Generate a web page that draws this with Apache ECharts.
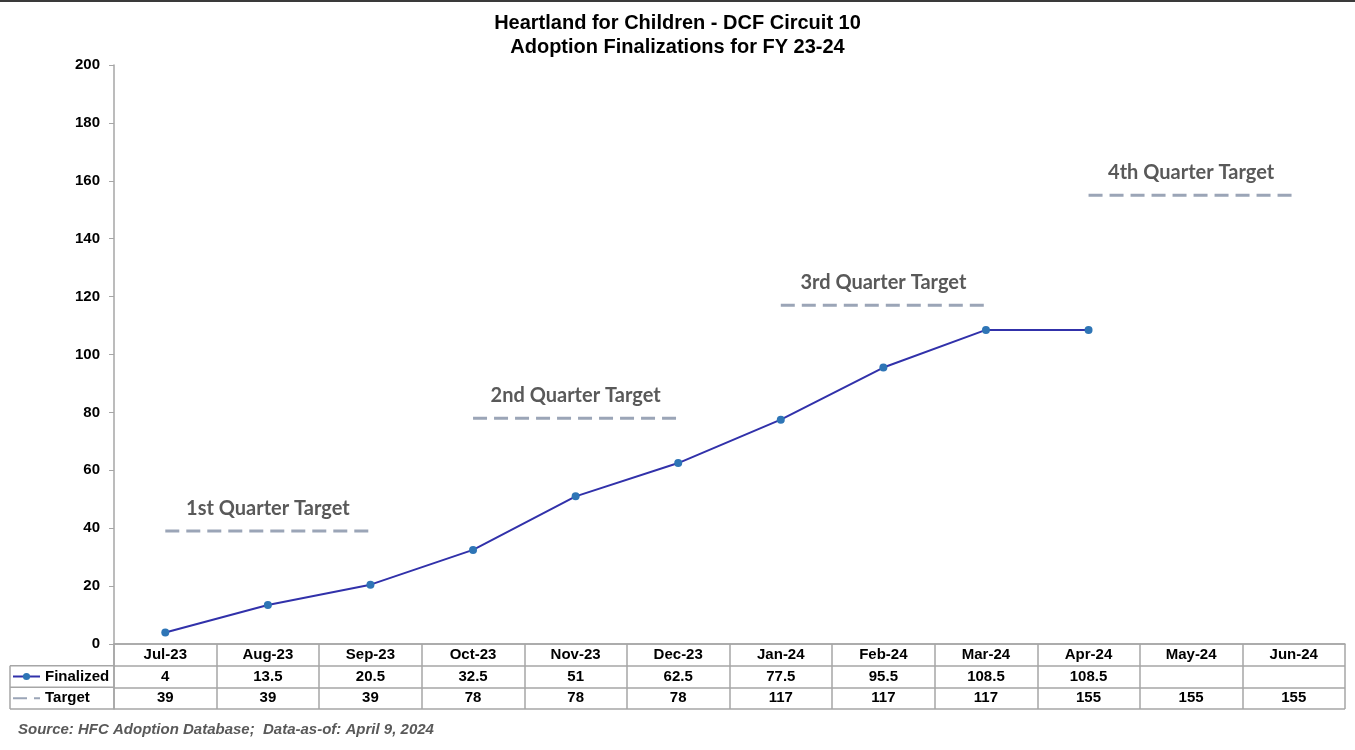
<!DOCTYPE html>
<html>
<head>
<meta charset="utf-8">
<script src="https://cdn.jsdelivr.net/npm/echarts@6/dist/echarts.min.js"></script>
<style>
  html, body { margin: 0; padding: 0; background: #fff; }
  #chart { width: 1355px; height: 750px; }
</style>
</head>
<body>
<div id="chart"></div>
<script>
// data
const months = ['Jul-23', 'Aug-23', 'Sep-23', 'Oct-23', 'Nov-23', 'Dec-23',
                'Jan-24', 'Feb-24', 'Mar-24', 'Apr-24', 'May-24', 'Jun-24'];
const finalized = [4, 13.5, 20.5, 32.5, 51, 62.5, 77.5, 95.5, 108.5, 108.5, null, null];
const targets = [39, 39, 39, 78, 78, 78, 117, 117, 117, 155, 155, 155];
const quarterLabels = ['1st Quarter Target', '2nd Quarter Target', '3rd Quarter Target', '4th Quarter Target'];

// layout
const plotLeft = 114, plotRight = 10, plotTop = 65;
const tableTop = 644, tableBottom = 709, tableLeft = 10;
const rowH = (tableBottom - tableTop) / 3;
const gridLine = '#a6a6a6';
const font = 'Liberation Sans, Arial, sans-serif';

const chart = echarts.init(document.getElementById('chart'));

// one series per quarter so the dashed target lines break between quarters
const targetSeries = quarterLabels.map((label, q) => ({
    name: 'Target',
    type: 'line',
    xAxisIndex: 0,
    yAxisIndex: 0,
    data: targets.map((v, i) => Math.floor(i / 3) === q ? v : null),
    symbol: 'none',
    silent: true,
    lineStyle: { color: '#9ba5b7', width: 3, type: [14, 7] },
    markPoint: {
        symbol: 'circle',
        symbolSize: 0,
        silent: true,
        data: [{ name: label, coord: [months[q * 3 + 1], targets[q * 3 + 1]] }],
        label: {
            show: true, position: 'top', distance: 13, formatter: '{b}',
            fontFamily: 'Lato, Carlito, sans-serif', fontWeight: 'bold', fontSize: 20, color: '#595959'
        }
    }
}));

const option = {
    animation: false,
    title: [{
        text: 'Heartland for Children - DCF Circuit 10\nAdoption Finalizations for FY 23-24',
        left: 'center', top: 6,
        textStyle: { fontFamily: font, fontWeight: 'bold', fontSize: 20, lineHeight: 24, color: '#000' }
    }, {
        text: '{b|Source:} HFC Adoption Database;  {b|Data-as-of:} April 9, 2024',
        left: 13, top: 716,
        textStyle: {
            fontFamily: font, fontStyle: 'italic', fontSize: 15, lineHeight: 18, color: '#595959',
            rich: { b: { fontFamily: font, fontStyle: 'italic', fontWeight: 'bold', fontSize: 15, color: '#595959' } }
        }
    }],
    legend: {
        orient: 'vertical',
        left: 12, top: tableTop + rowH,
        padding: 0,
        itemWidth: 27, itemHeight: 9, itemGap: 0,
        selectedMode: false,
        data: [{ name: 'Finalized' }, { name: 'Target', itemStyle: { opacity: 0 } }],
        textStyle: { fontFamily: font, fontWeight: 'bold', fontSize: 15, lineHeight: rowH, color: '#000' }
    },
    grid: [
        { left: plotLeft, right: plotRight, top: plotTop, bottom: 750 - tableTop, outerBoundsMode: 'none' },
        { left: plotLeft, right: plotRight, top: tableTop, bottom: 750 - tableBottom, outerBoundsMode: 'none' }
    ],
    xAxis: [{
        type: 'category', gridIndex: 0, data: months, boundaryGap: true,
        axisLine: { lineStyle: { color: gridLine, width: 1.5 } },
        axisTick: { show: false },
        axisLabel: {
            interval: 0, margin: 0,
            formatter: (value, idx) => '{m|' + value + '}\n{v|' +
                (finalized[idx] == null ? ' ' : finalized[idx]) + '}\n{v|' + targets[idx] + '}',
            rich: {
                m: { fontFamily: font, fontWeight: 'bold', fontSize: 15, lineHeight: rowH, color: '#000' },
                v: { fontFamily: font, fontWeight: 'bold', fontSize: 15, lineHeight: rowH, color: '#000' }
            }
        },
        splitLine: { show: false }
    }, {
        type: 'category', gridIndex: 1, data: months, boundaryGap: true,
        axisLine: { show: false }, axisTick: { show: false }, axisLabel: { show: false },
        splitLine: { show: true, lineStyle: { color: gridLine, width: 1.5 } }
    }],
    yAxis: [{
        type: 'value', gridIndex: 0, min: 0, max: 200, interval: 20,
        axisLine: { show: true, lineStyle: { color: gridLine, width: 1.5 } },
        axisTick: { show: true, length: 5, lineStyle: { color: gridLine, width: 1 } },
        axisLabel: { margin: 14, fontFamily: font, fontWeight: 'bold', fontSize: 15, color: '#000' },
        splitLine: { show: false }
    }, {
        type: 'value', gridIndex: 1, min: 0, max: 3, interval: 1,
        axisLine: { show: true, lineStyle: { color: gridLine, width: 1.5 } },
        axisTick: { show: false }, axisLabel: { show: false },
        splitLine: { show: true, lineStyle: { color: gridLine, width: 1.5 } }
    }],
    graphic: [
        // frame at the very top
        { type: 'rect', shape: { x: 0, y: 0, width: 1355, height: 2 }, style: { fill: '#3a3a3a' } },
        // row lines of the legend column
        ...[1, 2, 3].map(r => ({
            type: 'line', silent: true,
            shape: { x1: tableLeft, y1: tableTop + r * rowH, x2: plotLeft, y2: tableTop + r * rowH },
            style: { stroke: gridLine, lineWidth: 1.5 }
        })),
        {
            type: 'line', silent: true,
            shape: { x1: tableLeft, y1: tableTop + rowH, x2: tableLeft, y2: tableBottom },
            style: { stroke: gridLine, lineWidth: 1.5 }
        }
    ],
    series: [{
        name: 'Finalized',
        type: 'line',
        xAxisIndex: 0,
        yAxisIndex: 0,
        data: finalized,
        symbol: 'circle',
        symbolSize: 8,
        itemStyle: { color: '#2e75b6' },
        lineStyle: { color: '#3131aa', width: 2 }
    }, ...targetSeries]
};

chart.setOption(option);
</script>
</body>
</html>
